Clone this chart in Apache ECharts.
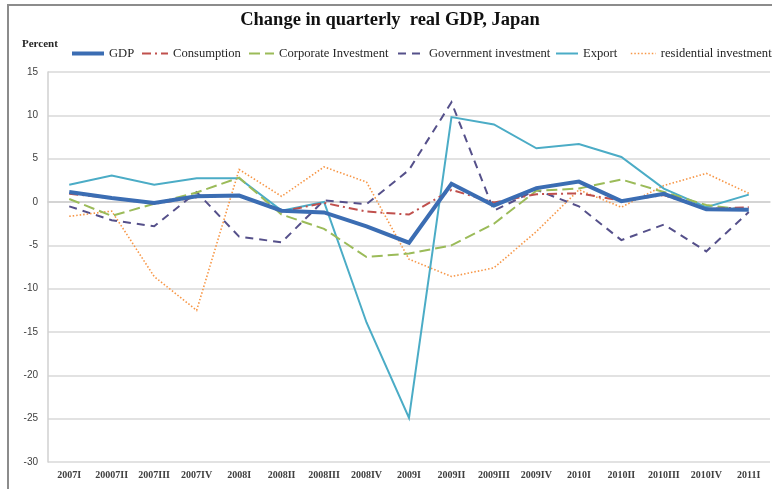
<!DOCTYPE html>
<html>
<head>
<meta charset="utf-8">
<script src="https://cdn.jsdelivr.net/npm/echarts@6/dist/echarts.min.js"></script>
<style>
  html, body { margin: 0; padding: 0; background: #ffffff; }
  #chart { width: 772px; height: 489px; }
</style>
</head>
<body>
<div id="chart"></div>
<script>
// Quarterly change (%) in Japan's real GDP and its components
const categories = ['2007I', '20007II', '2007III', '2007IV', '2008I', '2008II', '2008III', '2008IV',
  '2009I', '2009II', '2009III', '2009IV', '2010I', '2010II', '2010III', '2010IV', '2011I'];

const gdp         = [1.15, 0.45, -0.1, 0.65, 0.75, -1.0, -1.2, -2.8, -4.7, 2.1, -0.4, 1.6, 2.35, 0.1, 0.95, -0.85, -0.9];
const consumption = [0.95, 0.45, -0.2, 0.55, 0.75, -1.1, -0.1, -1.1, -1.45, 1.4, -0.05, 0.9, 1.0, 0.15, 0.8, -0.8, -0.6];
const corporate   = [0.35, -1.6, -0.2, 1.1, 2.8, -1.45, -3.1, -6.35, -5.95, -5.0, -2.5, 1.3, 1.55, 2.6, 1.15, -0.35, -0.95];
const government  = [-0.5, -2.1, -2.8, 1.15, -4.0, -4.65, 0.2, -0.25, 3.7, 11.5, -1.0, 1.4, -0.5, -4.4, -2.6, -5.7, -1.15];
const exports     = [2.0, 3.05, 2.0, 2.75, 2.75, -1.0, 0.0, -13.9, -24.9, 9.8, 8.95, 6.2, 6.7, 5.2, 1.55, -0.6, 0.85];
const residential = [-1.65, -1.05, -8.6, -12.5, 3.75, 0.65, 4.05, 2.3, -6.6, -8.6, -7.6, -3.4, 1.4, -0.6, 1.9, 3.3, 1.0];

const yTicks = { min: -30, max: 15, interval: 5 };

const serif = '"Liberation Serif", "DejaVu Serif", serif';

const seriesDefs = [
  { name: 'GDP', data: gdp, color: '#3b6db3', width: 4, type: 'solid', z: 6 },
  { name: 'Consumption', data: consumption, color: '#c0504d', width: 2, type: [9, 4, 2, 4], z: 5 },
  { name: 'Corporate Investment', data: corporate, color: '#9bbb59', width: 2, type: [11, 5], z: 4 },
  { name: 'Government investment', data: government, color: '#55508a', width: 2, type: [8, 6], z: 3 },
  { name: 'Export', data: exports, color: '#4bacc6', width: 2, type: 'solid', z: 2 },
  { name: 'residential investment', data: residential, color: '#f79646', width: 1.6, type: [1.5, 2], z: 1 }
];

// one legend entry per component, placed along the top row
const legendLeft  = [70, 141, 248, 397, 555, 630];
const legendWidth = [32, 26, 25, 26, 22, 25];
const legends = seriesDefs.map((s, i) => ({
  data: [s.name],
  left: legendLeft[i],
  top: 47,
  padding: 0,
  itemWidth: legendWidth[i],
  itemHeight: 12,
  itemStyle: { opacity: 0 },
  lineStyle: { width: s.width },
  textStyle: { fontFamily: serif, fontSize: 12.6, color: '#262626' },
  selectedMode: false
}));

const chart = echarts.init(document.getElementById('chart'), null, { renderer: 'canvas' });

chart.setOption({
  animation: false,
  backgroundColor: '#ffffff',
  graphic: [
    {
      type: 'rect',
      shape: { x: 8, y: 5, width: 800, height: 520 },
      style: { fill: 'none', stroke: '#8c8c8c', lineWidth: 2 },
      silent: true
    },
    {
      type: 'text',
      x: 390, y: 20,
      style: {
        text: 'Change in quarterly  real GDP, Japan',
        font: 'bold 18.5px ' + serif,
        fill: '#111111',
        textAlign: 'center',
        textVerticalAlign: 'middle'
      }
    },
    {
      type: 'text',
      x: 22, y: 44,
      style: {
        text: 'Percent',
        font: 'bold 11px ' + serif,
        fill: '#262626',
        textAlign: 'left',
        textVerticalAlign: 'middle'
      }
    }
  ],
  legend: legends,
  grid: { left: 48, right: 2, top: 72, bottom: 27, containLabel: false },
  xAxis: {
    type: 'category',
    data: categories,
    boundaryGap: true,
    axisLine: { show: true, lineStyle: { color: '#d0d0d0', width: 1.5 } },
    axisTick: { show: false },
    axisLabel: {
      interval: 0,
      margin: 8,
      fontFamily: serif,
      fontSize: 10,
      fontWeight: 'bold',
      color: '#404040'
    },
    splitLine: { show: false }
  },
  yAxis: {
    type: 'value',
    min: yTicks.min,
    max: yTicks.max,
    interval: yTicks.interval,
    axisLine: { show: true, lineStyle: { color: '#d0d0d0', width: 1.5 } },
    axisTick: { show: false },
    axisLabel: {
      margin: 10,
      fontFamily: '"Liberation Sans", Arial, sans-serif',
      fontSize: 10,
      color: '#404040'
    },
    splitLine: { show: true, lineStyle: { color: '#d9d9d9', width: 1.5 } }
  },
  series: seriesDefs.map(s => ({
    name: s.name,
    type: 'line',
    data: s.data,
    symbol: 'none',
    z: s.z,
    itemStyle: { color: s.color },
    lineStyle: { color: s.color, width: s.width, type: s.type, cap: 'butt', join: 'miter' }
  }))
});
</script>
</body>
</html>
